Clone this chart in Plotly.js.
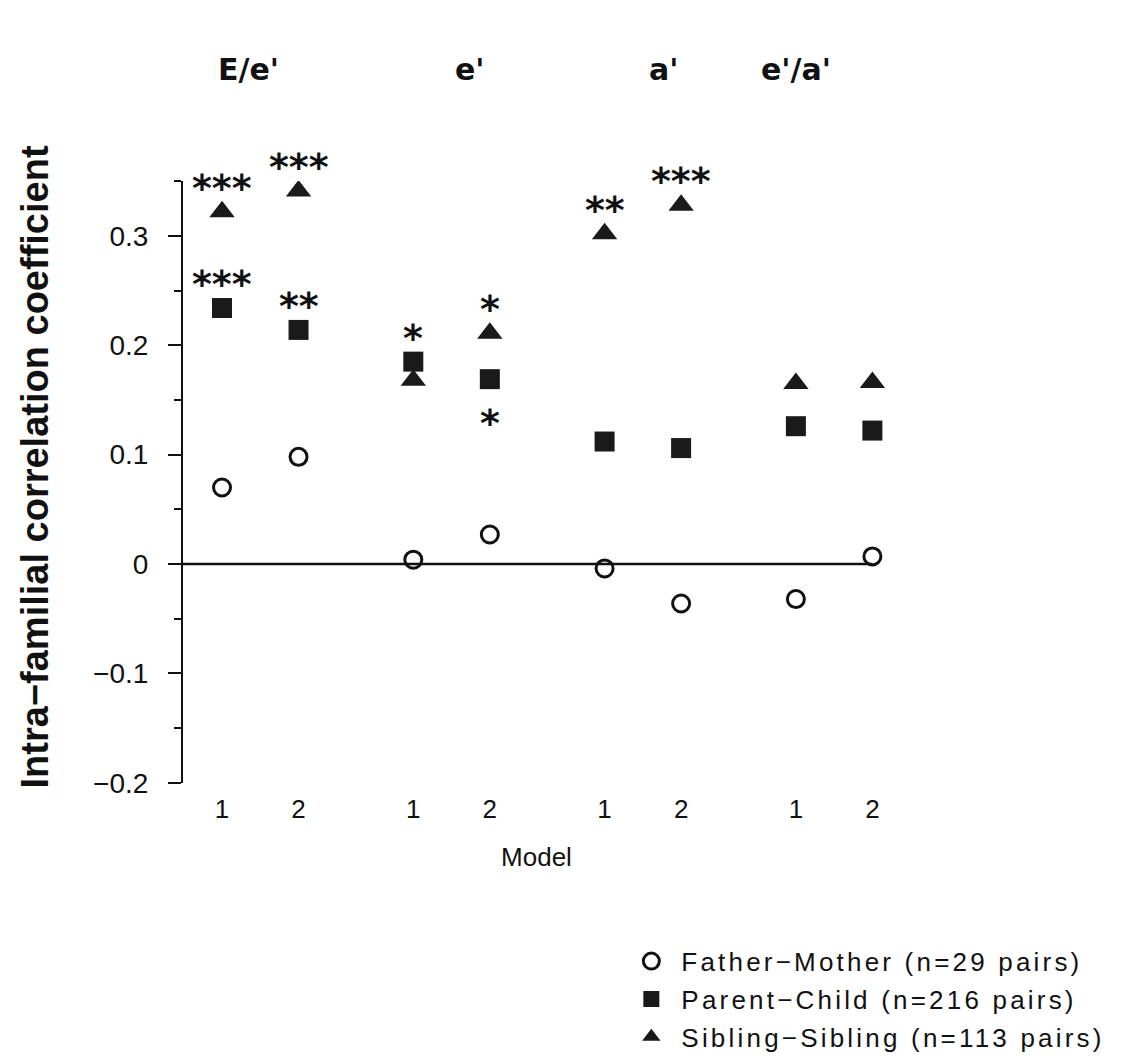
<!DOCTYPE html>
<html>
<head>
<meta charset="utf-8">
<script src="https://cdn.plot.ly/plotly-3.0.1.min.js"></script>
<style>
  html, body { margin: 0; padding: 0; background: #fff; }
  #chart { width: 1122px; height: 1059px; }
  .legendtext { letter-spacing: 3.2px; }
</style>
</head>
<body>
<div id="chart"></div>
<script>
// ---- data ----
const groups = ["E/e'", "e'", "a'", "e'/a'"];
const models = ["1", "2"];
const fatherMother   = [0.070, 0.098, 0.004, 0.027, -0.004, -0.036, -0.032, 0.007];
const parentChild    = [0.234, 0.214, 0.185, 0.169, 0.112, 0.106, 0.126, 0.122];
const siblingSibling = [0.322, 0.341, 0.168, 0.211, 0.302, 0.328, 0.165, 0.166];
const sigParentChild = ["***", "**", "*", "*", "", "", "", ""];
const sigSibling     = ["***", "***", "", "*", "**", "***", "", ""];
const seriesNames = [
  "Father\u2212Mother (n=29 pairs)",
  "Parent\u2212Child (n=216 pairs)",
  "Sibling\u2212Sibling (n=113 pairs)"
];
const yTitle = "Intra\u2212familial correlation coefficient";
const xTitle = "Model";

// ---- layout helpers ----
const GROUP_STEP = 2.5;
const headerShift = [-0.15, 0.24, 0.27, -0.5];
const xpos = [];
const xlabels = [];
groups.forEach((g, gi) => models.forEach((m, mi) => {
  xpos.push(gi * GROUP_STEP + mi);
  xlabels.push(m);
}));
const xRange = [-0.51, 8.73];
const yRange = [-0.2001, 0.3501];

const traces = [
  { x: xpos, y: fatherMother, name: seriesNames[0], legendgroup: "a",
    mode: "markers", type: "scatter",
    marker: { symbol: "circle-open", size: 17, color: "#111", line: { color: "#111", width: 3 } } },
  { x: xpos, y: parentChild, name: seriesNames[1], legendgroup: "b",
    mode: "markers", type: "scatter",
    marker: { symbol: "square", size: 20, color: "#1a1a1a", line: { width: 0 } } },
  { x: xpos, y: siblingSibling, name: seriesNames[2], legendgroup: "c",
    mode: "markers", type: "scatter",
    marker: { symbol: "triangle-up", size: 22, color: "#1a1a1a", line: { width: 0 } } }
];

const annotations = [];
// significance stars
const starFont = { family: "DejaVu Sans", size: 38, color: "#111", weight: "bold" };
xpos.forEach((x, i) => {
  if (sigSibling[i]) {
    annotations.push({ x: x, y: siblingSibling[i], xref: "x", yref: "y",
      text: sigSibling[i], showarrow: false, font: starFont,
      xanchor: "center", yanchor: "middle", yshift: 24 });
  }
  if (sigParentChild[i]) {
    const below = siblingSibling[i] > parentChild[i] && siblingSibling[i] - parentChild[i] < 0.06;
    annotations.push({ x: x, y: parentChild[i], xref: "x", yref: "y",
      text: sigParentChild[i], showarrow: false, font: starFont,
      xanchor: "center", yanchor: "middle", yshift: below ? -44 : 24 });
  }
});
// group headers
groups.forEach((g, gi) => {
  annotations.push({ x: gi * GROUP_STEP + 0.5 + headerShift[gi], y: 1.185, xref: "x", yref: "paper",
    text: g, showarrow: false,
    font: { family: "DejaVu Sans", size: 30, color: "#111", weight: "bold" },
    xanchor: "center", yanchor: "middle" });
});
// y-axis title
annotations.push({ x: -0.21, y: 0.525, xref: "paper", yref: "paper",
  text: yTitle, showarrow: false, textangle: -90,
  font: { family: "Liberation Sans", size: 38, color: "#111", weight: "bold" },
  xanchor: "center", yanchor: "middle" });

const layout = {
  width: 1122, height: 1059,
  margin: { l: 183, r: 232, t: 181, b: 276, autoexpand: false },
  paper_bgcolor: "#fff", plot_bgcolor: "#fff",
  font: { family: "Liberation Sans", color: "#111" },
  showlegend: true,
  legend: { x: 0.62, y: -0.257, xanchor: "left", yanchor: "top",
    font: { family: "Liberation Sans", size: 26, color: "#111" },
    itemwidth: 50,
    traceorder: "grouped", tracegroupgap: 1, bgcolor: "rgba(0,0,0,0)" },
  xaxis: { range: xRange, showline: false, zeroline: false, showgrid: false,
    tickmode: "array", tickvals: xpos, ticktext: xlabels, ticks: "",
    ticklabelstandoff: 8,
    tickfont: { family: "Liberation Sans", size: 26, color: "#111" },
    title: { text: xTitle, font: { family: "Liberation Sans", size: 26, color: "#111" }, standoff: 24 } },
  yaxis: { range: yRange, showline: true, linecolor: "#111", linewidth: 2,
    zeroline: false, showgrid: false,
    tick0: 0, dtick: 0.1, ticks: "outside", ticklen: 13, tickwidth: 2, tickcolor: "#111",
    minor: { dtick: 0.05, tick0: 0, ticks: "outside", ticklen: 7, tickwidth: 2, tickcolor: "#111", showgrid: false },
    tickfont: { family: "Liberation Sans", size: 28, color: "#111" },
    ticklabelstandoff: 14 },
  shapes: [{ type: "line", xref: "x", yref: "y",
    x0: xRange[0], x1: xpos[xpos.length - 1], y0: 0, y1: 0,
    line: { color: "#111", width: 2.5 } }],
  annotations: annotations
};

Plotly.newPlot("chart", traces, layout, { displayModeBar: false, staticPlot: true });
</script>
</body>
</html>
